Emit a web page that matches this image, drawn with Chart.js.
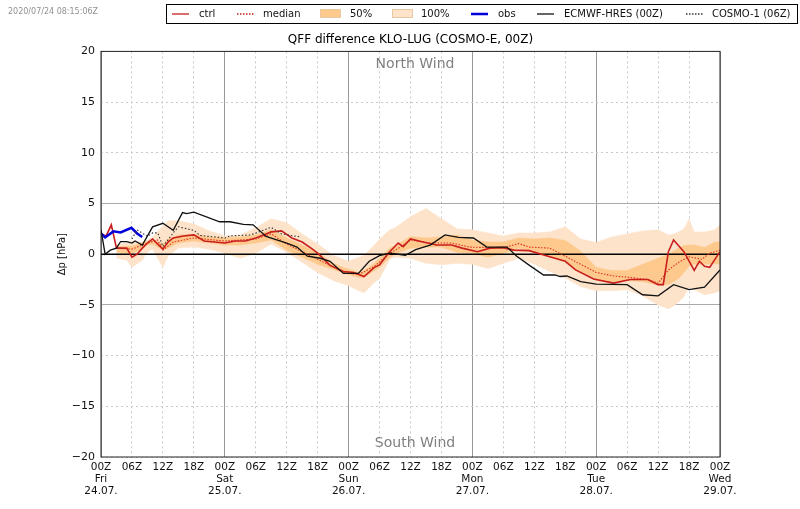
<!DOCTYPE html>
<html>
<head>
<meta charset="utf-8">
<style>
  html, body { margin: 0; padding: 0; background: #fff; }
  #wrap { width: 800px; height: 509px; }
</style>
<script src="https://cdn.jsdelivr.net/npm/chart.js@4"></script>
</head>
<body>
<div id="wrap"><canvas id="qff" width="800" height="509"></canvas></div>
<script>
// === Data (hours since 24.07. 00Z, hPa) ===
const tickDays = ['Fri', 'Sat', 'Sun', 'Mon', 'Tue', 'Wed'];
const tickDates = ['24.07.', '25.07.', '26.07.', '27.07.', '28.07.', '29.07.'];

const ctrlHours = [0, 1, 2, 3, 5, 6, 7, 8, 9, 10, 11, 12, 13, 14, 16, 18, 20, 22, 24, 26, 28, 30, 32, 33, 35, 37, 39, 41, 42, 44.4, 47, 49, 51, 53, 54, 55.7, 57.6, 58.6, 60, 62, 65, 68, 70, 73, 75.4, 78, 80, 83, 87, 90, 92, 95.5, 99.4, 102.6, 106, 108, 109, 110, 111, 113, 115, 116, 117, 118, 120];
const ctrlValues = [2.0, 1.8, 2.9, 0.6, 0.6, -0.3, 0, 0.6, 1.1, 1.5, 1.0, 0.5, 1.2, 1.6, 1.8, 1.9, 1.3, 1.2, 1.1, 1.3, 1.3, 1.6, 2.0, 2.2, 2.3, 1.6, 1.2, 0.5, 0.1, -1.1, -1.7, -1.8, -2.2, -1.3, -1.05, 0.1, 1.1, 0.75, 1.5, 1.25, 0.9, 0.9, 0.6, 0.25, 0.6, 0.65, 0.4, 0.35, -0.25, -0.7, -1.55, -2.45, -2.85, -2.5, -2.5, -3.0, -3.0, 0.25, 1.4, 0.25, -1.6, -0.7, -1.2, -1.3, 0.25];

const medianHours = [3, 6, 9, 11, 12, 14, 18, 24, 30, 33, 36, 40, 44.4, 47, 50, 53, 55.5, 58, 60, 64, 68, 71.5, 75.5, 78.5, 81, 83, 87, 90, 93, 96, 99.4, 102.6, 106, 108, 110, 112, 114, 116.5, 118, 120];
const medianValues = [0.6, 0.5, 1.1, 1.4, 0.4, 1.2, 1.6, 1.3, 1.5, 2.0, 1.0, 0.0, -1.1, -1.8, -2.0, -1.2, -0.1, 0.7, 1.4, 1.1, 1.1, 0.7, 0.65, 0.7, 1.05, 0.7, 0.6, -0.2, -1.0, -1.8, -2.15, -2.3, -2.5, -2.85, -1.55, -0.8, -0.25, -0.5, 0.1, 0.4];

const bandHours = [3, 5, 6, 8, 9, 10, 12, 13, 15, 18, 21, 24, 27, 30, 33, 36, 39, 42, 45, 48, 50, 51, 53, 54, 56, 57, 60, 63, 66, 69, 72, 75, 78, 81, 84, 87, 90, 93, 96, 99, 102, 105, 108, 110, 111, 112, 113, 114, 115, 117, 119, 120];
const hi100 = [1.0, 1.1, 1.3, 1.2, 1.4, 1.7, 2.8, 3.3, 3.3, 3.0, 2.3, 1.8, 1.9, 2.6, 3.5, 3.1, 2.0, 1.0, -0.1, -0.7, -0.3, -0.1, 0.9, 1.5, 2.4, 2.6, 3.7, 4.5, 3.5, 2.5, 2.4, 2.1, 1.8, 2.1, 2.1, 2.2, 2.7, 1.5, 1.15, 1.7, 2.0, 2.3, 2.4, 1.9, 2.0, 2.2, 2.5, 3.45, 2.2, 2.2, 2.4, 2.9];
const lo100 = [-0.4, -0.6, -1.3, -0.6, 0.2, 0.5, -1.3, -0.2, 0.6, 0.7, 0.5, 0.1, -0.4, 0.1, 1.0, 0.2, -0.8, -1.8, -2.6, -3.1, -3.6, -3.8, -2.8, -2.4, -0.5, -0.3, -0.4, -0.9, -1.05, -0.9, -1.0, -1.4, -0.9, -0.4, -1.0, -1.7, -2.35, -3.2, -3.6, -3.6, -3.5, -4.1, -5.0, -5.4, -5.1, -4.7, -4.2, -3.2, -3.5, -4.0, -3.8, -3.6];
const hi50 = [0.7, 0.8, 0.8, 1.1, 1.3, 1.5, 1.0, 1.5, 1.9, 2.0, 1.7, 1.6, 1.7, 1.9, 2.4, 1.6, 0.9, 0.2, -0.9, -1.5, -1.8, -1.6, -0.9, -0.4, 0.6, 0.8, 1.75, 1.6, 1.7, 1.9, 1.4, 1.2, 1.2, 1.6, 1.5, 1.6, 1.35, 0.3, -1.3, -1.6, -1.6, -1.0, -0.4, 0, 0.3, 0.6, 0.85, 0.9, 0.9, 0.65, 1.2, 1.2];
const lo50 = [0.2, 0.1, 0.1, 0.5, 0.9, 1.0, 0.4, 0.6, 1.1, 1.3, 1.1, 0.9, 0.9, 1.1, 1.4, 0.4, -0.3, -1.0, -1.5, -2.0, -2.3, -2.3, -1.6, -1.3, -0.3, 0, 0.6, 0.7, 0.7, 0.2, 0.1, -0.3, 0.1, 0.6, 0.25, -0.3, -0.75, -1.8, -2.55, -2.85, -2.6, -2.7, -3.05, -3.0, -2.7, -2.4, -1.8, -1.2, -1.0, -1.0, -0.95, -0.95];

const obsHours = [0, 0.8, 2.4, 3.8, 5.9, 7, 8];
const obsValues = [2.05, 1.65, 2.25, 2.15, 2.6, 2.05, 1.7];

const ecmwfHours = [0, 0.8, 1.8, 3, 3.8, 5, 6, 6.6, 8, 10, 12, 14, 15.8, 16.6, 18, 23, 25, 27.6, 29.5, 32, 36, 38, 40, 42.5, 44.4, 47, 49.9, 52, 54, 56, 59, 61, 63.8, 66.7, 69.3, 72.2, 74.8, 78.7, 80.6, 83.2, 85.8, 88, 89, 90.3, 93, 96, 102, 105, 108, 111, 114, 117, 120];
const ecmwfValues = [2.4, 0, 0.4, 0.6, 1.25, 1.25, 1.1, 1.3, 0.9, 2.7, 3.05, 2.35, 4.1, 4.0, 4.15, 3.2, 3.2, 2.95, 2.9, 1.75, 1.1, 0.7, -0.2, -0.4, -0.7, -1.9, -1.9, -0.7, -0.15, 0.1, -0.1, 0.45, 0.9, 1.9, 1.65, 1.6, 0.7, 0.7, -0.2, -1.15, -2.05, -2.05, -2.2, -2.15, -2.7, -2.95, -3.0, -4.0, -4.1, -3.0, -3.5, -3.25, -1.55];

const cosmoHours = [6, 7, 9, 10, 11, 12, 14, 15, 18, 19.2, 24, 25, 29, 33, 35, 38.6];
const cosmoValues = [1.5, 2.4, 1.75, 2.1, 2.1, 0.75, 2.1, 2.7, 2.35, 1.85, 1.6, 1.8, 1.9, 2.65, 2.0, 1.7];

const zeroHours = [0, 120];
const zeroValues = [0, 0];

const FONT = '"DejaVu Sans", sans-serif';
const RED = '#c81e1e';
const ORANGE = '#fdc98c';
const PEACH = '#fde3ca';

function pairs(xs, ys) {
  return xs.map((x, i) => ({ x: x, y: ys[i] }));
}

function lineSet(label, xs, ys, color, width, order, dash) {
  return {
    label: label,
    data: pairs(xs, ys),
    borderColor: color,
    backgroundColor: color,
    borderWidth: width,
    borderDash: dash || [],
    pointRadius: 0,
    tension: 0,
    fill: false,
    order: order
  };
}

// === Frame, wind labels, timestamp and legend box ===
const legendItems = [
  { kind: 'line', color: RED, x: 172, tx: 199, text: 'ctrl' },
  { kind: 'dots', color: RED, x: 237, tx: 263, text: 'median' },
  { kind: 'box', color: ORANGE, x: 320, tx: 350, text: '50%' },
  { kind: 'box', color: PEACH, x: 392, tx: 421, text: '100%' },
  { kind: 'thick', color: '#0000dd', x: 471, tx: 498, text: 'obs' },
  { kind: 'line', color: '#111', x: 537, tx: 564, text: 'ECMWF-HRES (00Z)' },
  { kind: 'dots', color: '#333', x: 686, tx: 712, text: 'COSMO-1 (06Z)' }
];

const decor = {
  id: 'decor',
  afterDraw(chart) {
    const c = chart.ctx;
    const a = chart.chartArea;
    c.save();
    c.strokeStyle = '#222';
    c.lineWidth = 1;
    c.strokeRect(a.left, a.top, a.right - a.left, a.bottom - a.top);

    c.textBaseline = 'middle';
    c.textAlign = 'center';
    c.fillStyle = '#808080';
    c.font = '14px ' + FONT;
    const mid = (a.left + a.right) / 2 + 4.5;
    c.fillText('North Wind', mid, chart.scales.y.getPixelForValue(18.7));
    c.fillText('South Wind', mid, chart.scales.y.getPixelForValue(-18.7));

    c.textAlign = 'left';
    c.fillStyle = '#909090';
    c.font = '8px ' + FONT;
    c.fillText('2020/07/24 08:15:06Z', 8, 12);

    c.strokeStyle = '#000';
    c.lineWidth = 1;
    c.strokeRect(166.5, 4.5, 631, 19);
    c.font = '10px ' + FONT;
    legendItems.forEach((it) => {
      if (it.kind === 'box') {
        c.fillStyle = it.color;
        c.fillRect(it.x, 9, 21, 9);
        c.strokeStyle = '#e8c8a0';
        c.lineWidth = 1;
        c.strokeRect(it.x + 0.5, 9.5, 20, 8);
      } else {
        c.strokeStyle = it.color;
        c.lineWidth = it.kind === 'thick' ? 2.5 : 1.3;
        c.setLineDash(it.kind === 'dots' ? [1.5, 1.5] : []);
        c.beginPath();
        c.moveTo(it.x, 14);
        c.lineTo(it.x + 17, 14);
        c.stroke();
        c.setLineDash([]);
      }
      c.fillStyle = '#111';
      c.fillText(it.text, it.tx, 14);
    });
    c.restore();
  }
};

// === Chart ===
new Chart(document.getElementById('qff').getContext('2d'), {
  type: 'line',
  plugins: [decor],
  data: {
    datasets: [
      lineSet('COSMO-1 (06Z)', cosmoHours, cosmoValues, '#333', 1.1, 1, [1.5, 2]),
      lineSet('ECMWF-HRES (00Z)', ecmwfHours, ecmwfValues, '#111', 1.3, 2),
      lineSet('obs', obsHours, obsValues, '#0000dd', 2.5, 3),
      lineSet('ctrl', ctrlHours, ctrlValues, RED, 1.6, 4),
      lineSet('median', medianHours, medianValues, '#e03020', 1.1, 5, [1.5, 1.5]),
      lineSet('zero', zeroHours, zeroValues, '#000', 1.5, 6),
      Object.assign(lineSet('50% low', bandHours, lo50, ORANGE, 0.5, 7), { fill: false }),
      Object.assign(lineSet('50%', bandHours, hi50, ORANGE, 0.5, 7), { fill: '-1', backgroundColor: ORANGE }),
      Object.assign(lineSet('100% low', bandHours, lo100, PEACH, 0.5, 8), { fill: false }),
      Object.assign(lineSet('100%', bandHours, hi100, PEACH, 0.5, 8), { fill: '-1', backgroundColor: PEACH })
    ]
  },
  options: {
    responsive: false,
    animation: false,
    devicePixelRatio: 1,
    layout: { padding: { top: 33, right: 80, bottom: 0, left: 56 } },
    plugins: {
      legend: { display: false },
      tooltip: { enabled: false },
      title: {
        display: true,
        fullSize: false,
        text: 'QFF difference KLO-LUG (COSMO-E, 00Z)',
        color: '#000',
        font: { family: FONT, size: 12, weight: 'normal' },
        padding: { top: 0, bottom: 4 }
      }
    },
    scales: {
      x: {
        type: 'linear',
        min: 0,
        max: 120,
        afterFit(s) { s.height = 52; },
        afterBuildTicks(s) {
          s.ticks = [];
          for (let h = 0; h <= 120; h += 6) s.ticks.push({ value: h });
        },
        grid: {
          drawTicks: false,
          color: (ctx) => (ctx.tick && ctx.tick.value % 24 === 0 ? '#999' : '#c8c8c8'),
          lineWidth: 1
        },
        border: {
          display: false,
          dash: (ctx) => (ctx.tick && ctx.tick.value % 24 === 0 ? [] : [2, 3])
        },
        ticks: {
          color: '#111',
          font: { family: FONT, size: 10.5, lineHeight: 1.15 },
          padding: 4,
          maxRotation: 0,
          autoSkip: false,
          callback(v) {
            const hour = String(v % 24).padStart(2, '0') + 'Z';
            if (v % 24 !== 0) return hour;
            const d = v / 24;
            return [hour, tickDays[d], tickDates[d]];
          }
        }
      },
      y: {
        min: -20,
        max: 20,
        afterFit(s) { s.width = 45; },
        grid: {
          drawTicks: false,
          color: (ctx) => (ctx.tick && Math.abs(ctx.tick.value) === 5 ? '#aaa' : '#c8c8c8'),
          lineWidth: 1
        },
        border: {
          display: false,
          dash: (ctx) => (ctx.tick && Math.abs(ctx.tick.value) === 5 ? [] : [2, 3])
        },
        title: {
          display: true,
          text: '\u0394p [hPa]',
          color: '#111',
          font: { family: FONT, size: 10 },
          padding: { top: 0, bottom: 0 }
        },
        ticks: {
          stepSize: 5,
          color: '#111',
          font: { family: FONT, size: 11 },
          padding: 6,
          callback: (v) => String(v).replace('-', '\u2212')
        }
      }
    }
  }
});
</script>
</body>
</html>
